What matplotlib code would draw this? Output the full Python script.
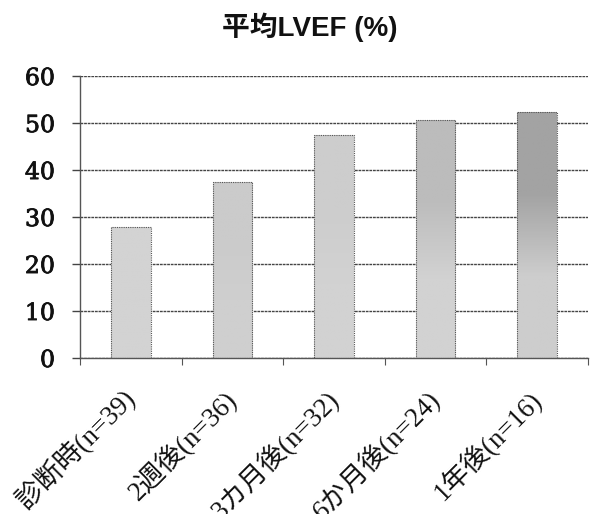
import numpy as np
import matplotlib
matplotlib.use("Agg")
import matplotlib.pyplot as plt
import matplotlib.patheffects as pe
from matplotlib.colors import LinearSegmentedColormap

# Mean LVEF at each follow-up point
categories = ["診断時(n=39)", "2週後(n=36)", "3カ月後(n=32)", "6か月後(n=24)", "1年後(n=16)"]
lvef = [27.8, 37.4, 47.5, 50.6, 52.4]
yticks = [0, 10, 20, 30, 40, 50, 60]
title = "平均LVEF (%)"

# top / bottom shades of each bar's vertical gradient
top_shades = ["#d3d3d3", "#cbcbcb", "#cdcdcd", "#bcbcbc", "#a3a3a3"]
bottom_shades = ["#d3d3d3", "#cfcfcf", "#d2d2d2", "#d2d2d2", "#cdcdcd"]

fig = plt.figure(figsize=(5.94, 5.14), dpi=100)
ax = fig.add_axes([0.1347, 0.3035, 0.855, 0.5485])

x = np.arange(len(categories))
width = 0.39
bars = ax.bar(x, lvef, width=width, facecolor="none", edgecolor="#555555",
              linewidth=0.8, linestyle=(0, (1, 1)), zorder=3)

for bar, top, bot, val in zip(bars, top_shades, bottom_shades, lvef):
    cmap = LinearSegmentedColormap.from_list("g", [bot, bot, top, top], N=256)
    grad = np.linspace(0, 1, 200).reshape(-1, 1)
    x0 = bar.get_x()
    im = ax.imshow(grad, cmap=cmap, origin="lower", aspect="auto",
                   extent=[x0, x0 + bar.get_width(), 0, val], zorder=2,
                   interpolation="bilinear")
    im.set_clip_path(bar)

ax.set_xlim(-0.5, len(categories) - 0.5)
ax.set_ylim(0, 60)
ax.set_yticks(yticks)
thick = [pe.withStroke(linewidth=0.6, foreground="#111111")]
ylabels = ax.set_yticklabels([str(v) for v in yticks], family="DejaVu Serif",
                             fontsize=17, color="#111111")
for t in ylabels:
    t.set_path_effects(thick)
ax.yaxis.grid(True, color="#444444", linewidth=1.0, linestyle=(0, (2, 0.6)), zorder=1)
ax.set_axisbelow(True)

ax.set_xticks(x)
ax.set_xticklabels(categories, rotation=45, ha="right", va="center",
                   rotation_mode="anchor",
                   family=["Liberation Serif", "Noto Sans CJK JP"], fontsize=19.5,
                   color="#111111")
ax.tick_params(axis="x", length=0, pad=26)
ax.set_xticks(np.arange(-0.5, len(categories)), minor=True)
ax.tick_params(axis="x", which="minor", length=5, width=0.8, color="#555555", direction="out")
ax.tick_params(axis="y", length=6, width=1.0, color="#444444", pad=12)

for side in ["top", "right"]:
    ax.spines[side].set_visible(False)
ax.spines["left"].set_color("#555555")
ax.spines["left"].set_linewidth(1.0)
ax.spines["bottom"].set_color("#555555")
ax.spines["bottom"].set_linewidth(1.0)

fig.text(310 / 594, 1 - 27 / 514, title, ha="center", va="center", fontsize=20,
         fontweight="bold", family=["Liberation Sans", "Noto Sans CJK JP"], color="#111111")

fig.savefig("out.png", dpi=100)
